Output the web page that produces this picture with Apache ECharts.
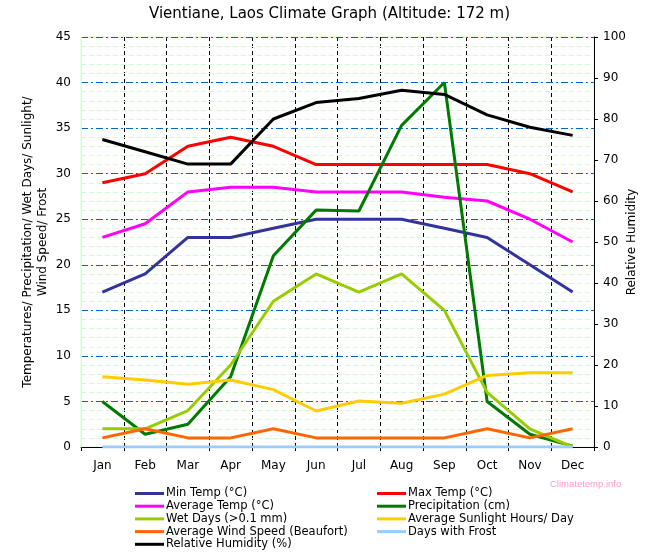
<!DOCTYPE html>
<html>
<head>
<meta charset="utf-8">
<script src="https://cdn.jsdelivr.net/npm/echarts@6/dist/echarts.min.js"></script>
<style>
html,body{margin:0;padding:0;background:#fff;}
#chart{width:659px;height:557px;}
</style>
</head>
<body>
<div id="chart"></div>
<script>
var months = ['Jan','Feb','Mar','Apr','May','Jun','Jul','Aug','Sep','Oct','Nov','Dec'];
var minTemp = [17,19,23,23,24,25,25,25,24,23,20,17];
var maxTemp = [29,30,33,34,33,31,31,31,31,31,30,28];
var avgTemp = [23,24.5,28,28.5,28.5,28,28,28,27.4,27,25,22.5];
var precip = [5,1.4,2.5,7.7,21,26,25.9,35.3,40,5,1.4,0.1];
var wetDays = [2,2,4,9,16,19,17,19,15,6,2,0];
var sunlight = [7.7,7.35,6.9,7.35,6.3,3.95,5.05,4.8,5.8,7.85,8.15,8.15];
var wind = [1,2,1,1,2,1,1,1,1,2,1,2];
var frost = [0,0,0,0,0,0,0,0,0,0,0,0];
var humidity = [75,72,69,69,80,84,85,87,86,81,78,76];
var leftTicks = [0,5,10,15,20,25,30,35,40,45];
var rightTicks = [0,10,20,30,40,50,60,70,80,90,100];

var FONT = 'DejaVu Sans';
var chart = echarts.init(document.getElementById('chart'), null, {renderer:'canvas'});

function ln(name, data, color, axis) {
  return {
    name: name, type: 'line', data: data, yAxisIndex: axis || 0,
    showSymbol: false, symbol: 'none', smooth: false,
    lineStyle: {color: color, width: 3},
    itemStyle: {color: color},
    emphasis: {disabled: true}, animation: false
  };
}

var splitColors = leftTicks.map(function(v){ return v === 45 ? '#ccffcc' : '#0066cc'; });

var legendCommon = {
  orient: 'vertical', top: 487.5, padding: 0, itemGap: 0.7,
  itemWidth: 29, itemHeight: 3, icon: 'rect',
  textStyle: {fontFamily: FONT, fontSize: 11.5, color: '#000', lineHeight: 12, padding: [0,0,0,-3]}
};

chart.setOption({
  animation: false,
  backgroundColor: '#fff',
  title: {
    text: 'Vientiane, Laos Climate Graph (Altitude: 172 m)',
    left: 'center', top: 7, padding: 0,
    textStyle: {fontFamily: FONT, fontSize: 15, fontWeight: 'normal', color: '#000'}
  },
  grid: {left: 81, right: 65, top: 37, bottom: 110, show: true, borderColor: '#ccffcc', borderWidth: 1},
  legend: [
    Object.assign({left: 135, data: ['Min Temp (°C)','Average Temp (°C)','Wet Days (>0.1 mm)','Average Wind Speed (Beaufort)','Relative Humidity (%)']}, legendCommon),
    Object.assign({left: 377, data: ['Max Temp (°C)','Precipitation (cm)','Average Sunlight Hours/ Day','Days with Frost']}, legendCommon)
  ],
  graphic: [{
    type: 'text', left: 550, top: 479,
    style: {text: 'Climatetemp.info', fill: '#ff99cc', font: '9.5px "Liberation Sans"'}
  }],
  xAxis: {
    type: 'category', data: months, boundaryGap: true, z: 0,
    axisLine: {show: true, lineStyle: {color: '#000', width: 1}},
    axisTick: {show: true, length: 4, lineStyle: {color: '#000'}},
    axisLabel: {fontFamily: FONT, fontSize: 12, color: '#000', margin: 13},
    splitLine: {show: true, interval: function(i){ return i !== 0; },
      lineStyle: {color: '#000', type: [4,3], width: 1}}
  },
  yAxis: [{
    type: 'value', min: 0, max: 45, interval: 5, position: 'left', z: 1,
    name: 'Temperatures/ Precipitation/ Wet Days/ Sunlight/\nWind Speed/ Frost',
    nameLocation: 'middle', nameRotate: 90, nameGap: 31, nameMoveOverlap: false,
    nameTextStyle: {fontFamily: FONT, fontSize: 12, color: '#000', lineHeight: 15},
    axisLine: {show: true, lineStyle: {color: '#ccffcc'}},
    axisTick: {show: false},
    axisLabel: {fontFamily: FONT, fontSize: 12, color: '#000', margin: 10,
      formatter: function(v){ return leftTicks.indexOf(v) >= 0 ? String(v) : ''; }},
    minorTick: {show: false, splitNumber: 5},
    minorSplitLine: {show: true, lineStyle: {color: '#ccffcc', type: [5,3], width: 1}},
    splitLine: {show: true, showMinLine: false, lineStyle: {color: splitColors, type: [7,3,2,3], width: 1}}
  }, {
    type: 'value', min: 0, max: 100, interval: 10, position: 'right', z: 1,
    name: 'Relative Humidity', nameLocation: 'middle', nameRotate: 90, nameGap: 32, nameMoveOverlap: false,
    nameTextStyle: {fontFamily: FONT, fontSize: 12, color: '#000'},
    axisLine: {show: true, lineStyle: {color: '#000', width: 1}},
    axisTick: {show: true, length: 4, lineStyle: {color: '#000'}},
    axisLabel: {fontFamily: FONT, fontSize: 12, color: '#000', margin: 9,
      formatter: function(v){ return rightTicks.indexOf(v) >= 0 ? String(v) : ''; }},
    splitLine: {show: false}
  }],
  series: [
    ln('Min Temp (°C)', minTemp, '#333399'),
    ln('Max Temp (°C)', maxTemp, '#ff0000'),
    ln('Average Temp (°C)', avgTemp, '#ff00ff'),
    ln('Precipitation (cm)', precip, '#007a00'),
    ln('Wet Days (>0.1 mm)', wetDays, '#99cc00'),
    ln('Average Sunlight Hours/ Day', sunlight, '#ffcc00'),
    ln('Average Wind Speed (Beaufort)', wind, '#ff6600'),
    ln('Days with Frost', frost, '#99ccff'),
    ln('Relative Humidity (%)', humidity, '#000000', 1)
  ]
});
</script>
</body>
</html>
